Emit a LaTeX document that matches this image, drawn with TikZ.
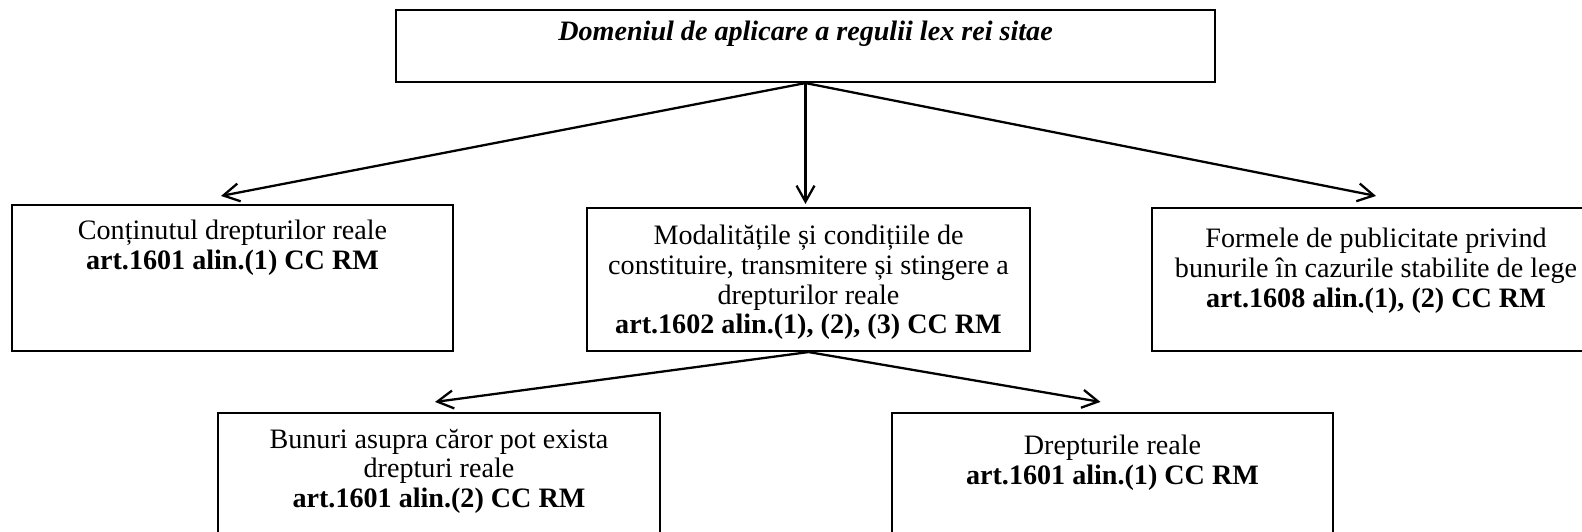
\documentclass[tikz,border=0pt]{standalone}
\usepackage{fontspec}
\setmainfont{Liberation Serif}
\usetikzlibrary{arrows.meta, positioning}

\begin{document}
\begin{tikzpicture}[
  box/.style={draw, line width=1.2pt, rectangle, inner sep=0pt},
  txt/.style={align=center, inner sep=0pt, font=\fontsize{16}{16.9}\selectfont},
  arr/.style={-{Straight Barb[length=3.2mm, width=3.6mm]}, line width=1.3pt}
]
\useasboundingbox (0,0) rectangle (31.64,-10.62);
% boxes
\node[box, minimum width=16.38cm, minimum height=1.44cm] (dom) at (16.11,-0.92) {};
\node[box, minimum width=8.82cm, minimum height=2.92cm] (cont) at (4.65,-5.56) {};
\node[box, minimum width=8.86cm, minimum height=2.86cm] (modal) at (16.17,-5.59) {};
\node[box, minimum width=8.96cm, minimum height=2.86cm] (forme) at (27.52,-5.59) {};
\node[box, minimum width=8.84cm, minimum height=2.94cm] (bunuri) at (8.78,-9.73) {};
\node[box, minimum width=8.82cm, minimum height=2.94cm] (drept) at (22.25,-9.73) {};
% texts
\node[txt, below=0.23cm of dom.north] (domtxt) {\textbf{\textit{Domeniul de aplicare a regulii lex rei sitae}}};
\node[txt, below=0.32cm of cont.north] (conttxt) {Conținutul drepturilor reale\\\textbf{art.1601 alin.(1) CC RM}};
\node[txt, below=0.36cm of modal.north] (modaltxt) {Modalitățile și condițiile de\\constituire, transmitere și stingere a\\drepturilor reale\\\textbf{art.1602 alin.(1), (2), (3) CC RM}};
\node[txt, below=0.42cm of forme.north] (formetxt) {Formele de publicitate privind\\bunurile în cazurile stabilite de lege\\\textbf{art.1608 alin.(1), (2) CC RM}};
\node[txt, below=0.33cm of bunuri.north] (bunuritxt) {Bunuri asupra căror pot exista\\drepturi reale\\\textbf{art.1601 alin.(2) CC RM}};
\node[txt, below=0.46cm of drept.north] (dreptxt) {Drepturile reale\\\textbf{art.1601 alin.(1) CC RM}};
% connectors
\draw[arr] (dom.south) -- ([xshift=-0.23cm, yshift=0.16cm]cont.north);
\draw[arr] (dom.south) -- ([yshift=0.06cm]dom.south |- modal.north);
\draw[arr] (dom.south) -- ([yshift=0.22cm]forme.north);
\draw[arr] (modal.south) -- ([xshift=-0.08cm, yshift=0.2cm]bunuri.north);
\draw[arr] (modal.south) -- ([xshift=-0.24cm, yshift=0.2cm]drept.north);
\end{tikzpicture}
\end{document}
